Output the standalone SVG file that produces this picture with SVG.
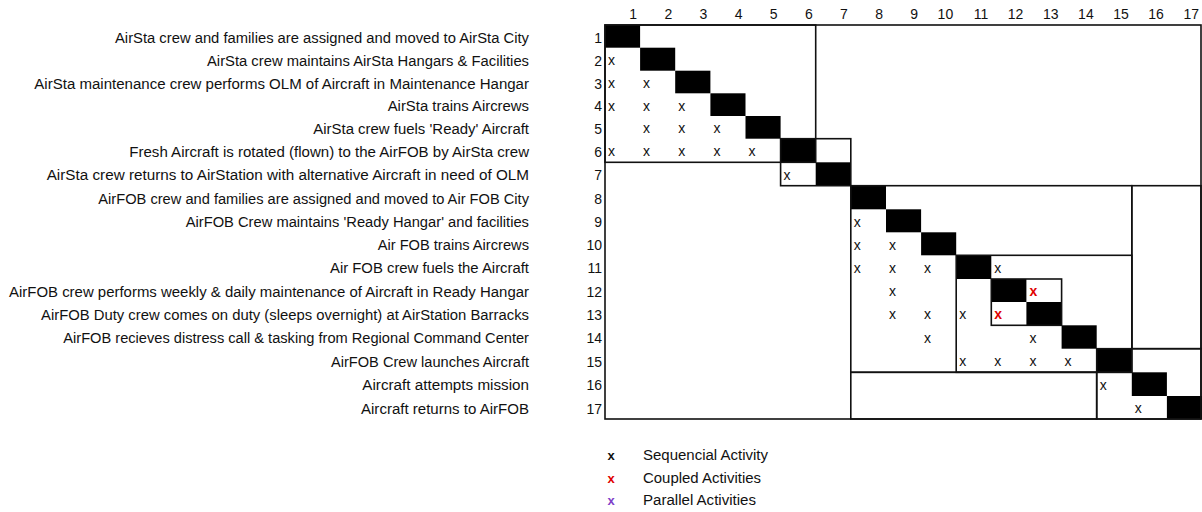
<svg xmlns="http://www.w3.org/2000/svg" width="1202" height="512" viewBox="0 0 1202 512">
<style>
text{font-family:"Liberation Sans",Arial,sans-serif;font-size:14px;fill:#111}
.lbl{text-anchor:end}
.num{text-anchor:end}
.x{font-size:14px}
.xr{font-size:14px;fill:#e00000;font-weight:bold}
.blk{fill:#000}
.box{fill:none;stroke:#111;stroke-width:1.6}
.lg{font-weight:bold;font-size:13px}
</style>
<rect width="1202" height="512" fill="#fff"/>
<g id="headers">
<text class="num" x="637.1" y="19">1</text>
<text class="num" x="672.2" y="19">2</text>
<text class="num" x="707.4" y="19">3</text>
<text class="num" x="742.5" y="19">4</text>
<text class="num" x="777.6" y="19">5</text>
<text class="num" x="812.7" y="19">6</text>
<text class="num" x="847.8" y="19">7</text>
<text class="num" x="883" y="19">8</text>
<text class="num" x="918.1" y="19">9</text>
<text class="num" x="953.2" y="19">10</text>
<text class="num" x="988.3" y="19">11</text>
<text class="num" x="1023.4" y="19">12</text>
<text class="num" x="1058.6" y="19">13</text>
<text class="num" x="1093.7" y="19">14</text>
<text class="num" x="1128.8" y="19">15</text>
<text class="num" x="1163.9" y="19">16</text>
<text class="num" x="1199" y="19">17</text>
</g>
<g id="row-labels">
<g id="row1"><text class="lbl" x="529" y="43" textLength="414" lengthAdjust="spacingAndGlyphs">AirSta crew and families are assigned and moved to AirSta City</text><text class="num" x="602" y="43">1</text></g>
<g id="row2"><text class="lbl" x="529" y="65.7" textLength="322" lengthAdjust="spacingAndGlyphs">AirSta crew maintains AirSta Hangars &amp; Facilities</text><text class="num" x="602" y="65.7">2</text></g>
<g id="row3"><text class="lbl" x="529" y="88.7" textLength="494.7" lengthAdjust="spacingAndGlyphs">AirSta maintenance crew performs OLM of Aircraft in Maintenance Hangar</text><text class="num" x="602" y="88.7">3</text></g>
<g id="row4"><text class="lbl" x="529" y="111.3" textLength="141.3" lengthAdjust="spacingAndGlyphs">AirSta trains Aircrews</text><text class="num" x="602" y="111.3">4</text></g>
<g id="row5"><text class="lbl" x="529" y="134" textLength="215.7" lengthAdjust="spacingAndGlyphs">AirSta crew fuels 'Ready' Aircraft</text><text class="num" x="602" y="134">5</text></g>
<g id="row6"><text class="lbl" x="529" y="156.7" textLength="399.7" lengthAdjust="spacingAndGlyphs">Fresh Aircraft is rotated (flown) to the AirFOB by AirSta crew</text><text class="num" x="602" y="156.7">6</text></g>
<g id="row7"><text class="lbl" x="529" y="180.3" textLength="482.3" lengthAdjust="spacingAndGlyphs">AirSta crew returns to AirStation with alternative Aircraft in need of OLM</text><text class="num" x="602" y="180.3">7</text></g>
<g id="row8"><text class="lbl" x="529" y="203.7" textLength="430.7" lengthAdjust="spacingAndGlyphs">AirFOB crew and families are assigned and moved to Air FOB City</text><text class="num" x="602" y="203.7">8</text></g>
<g id="row9"><text class="lbl" x="529" y="227.3" textLength="343.3" lengthAdjust="spacingAndGlyphs">AirFOB Crew maintains 'Ready Hangar' and facilities</text><text class="num" x="602" y="227.3">9</text></g>
<g id="row10"><text class="lbl" x="529" y="250.3" textLength="151.3" lengthAdjust="spacingAndGlyphs">Air FOB trains Aircrews</text><text class="num" x="602" y="250.3">10</text></g>
<g id="row11"><text class="lbl" x="529" y="273.3" textLength="199" lengthAdjust="spacingAndGlyphs">Air FOB crew fuels the Aircraft</text><text class="num" x="602" y="273.3">11</text></g>
<g id="row12"><text class="lbl" x="529" y="297" textLength="520" lengthAdjust="spacingAndGlyphs">AirFOB crew performs weekly &amp; daily maintenance of Aircraft in Ready Hangar</text><text class="num" x="602" y="297">12</text></g>
<g id="row13"><text class="lbl" x="529" y="320" textLength="488" lengthAdjust="spacingAndGlyphs">AirFOB Duty crew comes on duty (sleeps overnight) at AirStation Barracks</text><text class="num" x="602" y="320">13</text></g>
<g id="row14"><text class="lbl" x="529" y="343.3" textLength="465.7" lengthAdjust="spacingAndGlyphs">AirFOB recieves distress call &amp; tasking from Regional Command Center</text><text class="num" x="602" y="343.3">14</text></g>
<g id="row15"><text class="lbl" x="529" y="366.7" textLength="198" lengthAdjust="spacingAndGlyphs">AirFOB Crew launches Aircraft</text><text class="num" x="602" y="366.7">15</text></g>
<g id="row16"><text class="lbl" x="529" y="390.3" textLength="166.7" lengthAdjust="spacingAndGlyphs">Aircraft attempts mission</text><text class="num" x="602" y="390.3">16</text></g>
<g id="row17"><text class="lbl" x="529" y="414" textLength="168" lengthAdjust="spacingAndGlyphs">Aircraft returns to AirFOB</text><text class="num" x="602" y="414">17</text></g>
</g>
<g id="diagonal">
<rect class="blk" x="605" y="25" width="35.1" height="22.7"/>
<rect class="blk" x="640.1" y="47.7" width="35.1" height="23"/>
<rect class="blk" x="675.2" y="70.7" width="35.2" height="22.6"/>
<rect class="blk" x="710.4" y="93.3" width="35.1" height="22.7"/>
<rect class="blk" x="745.5" y="116" width="35.1" height="22.7"/>
<rect class="blk" x="780.6" y="138.7" width="35.1" height="23.6"/>
<rect class="blk" x="815.7" y="162.3" width="35.1" height="23.4"/>
<rect class="blk" x="850.8" y="185.7" width="35.2" height="23.6"/>
<rect class="blk" x="886" y="209.3" width="35.1" height="23"/>
<rect class="blk" x="921.1" y="232.3" width="35.1" height="23"/>
<rect class="blk" x="956.2" y="255.3" width="35.1" height="23.7"/>
<rect class="blk" x="991.3" y="279" width="35.1" height="23"/>
<rect class="blk" x="1026.4" y="302" width="35.2" height="23.3"/>
<rect class="blk" x="1061.6" y="325.3" width="35.1" height="23.4"/>
<rect class="blk" x="1096.7" y="348.7" width="35.1" height="23.6"/>
<rect class="blk" x="1131.8" y="372.3" width="35.1" height="23.7"/>
<rect class="blk" x="1166.9" y="396" width="35.1" height="23"/>
</g>
<g id="connectors">
<rect class="box" x="605" y="25" width="596" height="394"/>
<rect class="box" x="605" y="25" width="210.7" height="137.3"/>
<rect class="box" x="780.6" y="138.7" width="70.2" height="47"/>
<rect class="box" x="850.8" y="185.7" width="281" height="186.6"/>
<rect class="box" x="956.2" y="255.3" width="175.6" height="117"/>
<rect class="box" x="991.3" y="279" width="70.3" height="46.3"/>
<rect class="box" x="850.8" y="372.3" width="245.9" height="46.7"/>
<rect class="box" x="1131.8" y="185.7" width="69.2" height="163"/>
<rect class="box" x="1096.7" y="348.7" width="104.3" height="70.3"/>
</g>
<g id="marks">
<text class="x" x="608" y="65">x</text>
<text class="x" x="608" y="88">x</text><text class="x" x="643.1" y="88">x</text>
<text class="x" x="608" y="110.6">x</text><text class="x" x="643.1" y="110.6">x</text><text class="x" x="678.2" y="110.6">x</text>
<text class="x" x="643.1" y="133.3">x</text><text class="x" x="678.2" y="133.3">x</text><text class="x" x="713.4" y="133.3">x</text>
<text class="x" x="608" y="156">x</text><text class="x" x="643.1" y="156">x</text><text class="x" x="678.2" y="156">x</text><text class="x" x="713.4" y="156">x</text><text class="x" x="748.5" y="156">x</text>
<text class="x" x="783.6" y="179.6">x</text>
<text class="x" x="853.8" y="226.6">x</text>
<text class="x" x="853.8" y="249.6">x</text><text class="x" x="889" y="249.6">x</text>
<text class="x" x="853.8" y="272.6">x</text><text class="x" x="889" y="272.6">x</text><text class="x" x="924.1" y="272.6">x</text><text class="x" x="994.3" y="272.6">x</text>
<text class="x" x="889" y="296.3">x</text><text class="xr" x="1029.4" y="296.3">x</text>
<text class="x" x="889" y="319.3">x</text><text class="x" x="924.1" y="319.3">x</text><text class="x" x="959.2" y="319.3">x</text><text class="xr" x="994.3" y="319.3">x</text>
<text class="x" x="924.1" y="342.6">x</text><text class="x" x="1029.4" y="342.6">x</text>
<text class="x" x="959.2" y="366">x</text><text class="x" x="994.3" y="366">x</text><text class="x" x="1029.4" y="366">x</text><text class="x" x="1064.6" y="366">x</text>
<text class="x" x="1099.7" y="389.6">x</text>
<text class="x" x="1134.8" y="413.3">x</text>
</g>
<g id="legend">
<text class="lg" x="607.5" y="460">x</text>
<text x="643" y="460" textLength="125" lengthAdjust="spacingAndGlyphs">Sequencial Activity</text>
<text class="lg" x="607.5" y="482.5" style="fill:#e00000">x</text>
<text x="643" y="482.5" textLength="118" lengthAdjust="spacingAndGlyphs">Coupled Activities</text>
<text class="lg" x="607.5" y="505" style="fill:#8040c8">x</text>
<text x="643" y="505" textLength="113" lengthAdjust="spacingAndGlyphs">Parallel Activities</text>
</g>
</svg>
